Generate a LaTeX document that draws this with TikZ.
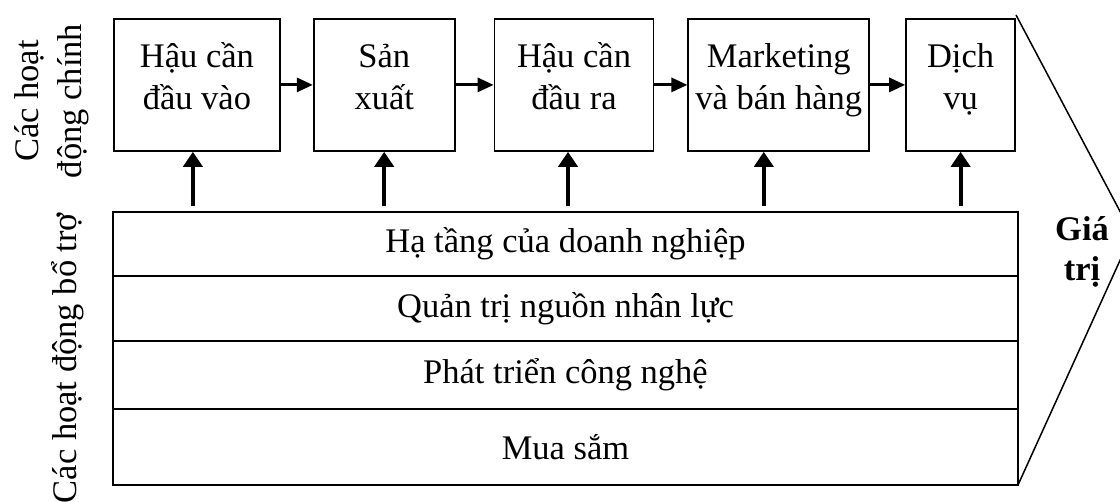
\documentclass[tikz,border=0pt]{standalone}
\usepackage{fontspec}
\setmainfont{Liberation Serif}
\usetikzlibrary{arrows.meta,positioning}

\newcommand\topst{\rule{0pt}{33pt}}
\newcommand\botst{\rule[-12pt]{0pt}{12pt}}

\begin{document}
\begin{tikzpicture}[x=1pt,y=-1pt,
  actbox/.style={draw,line width=1.8pt,minimum height=132pt,inner sep=0pt},
  acttext/.style={align=center,inner sep=0pt,font=\fontsize{34.5}{42}\selectfont},
  rowbox/.style={draw,line width=1.8pt,minimum width=905pt,outer sep=0pt,inner sep=0pt,font=\fontsize{34.5}{42}\selectfont},
  sidetext/.style={rotate=90,align=center,inner sep=0pt,font=\fontsize{34.5}{43}\selectfont},
  flowarr/.style={line width=3pt,-{Triangle[length=16pt,width=14pt]}},
  uparr/.style={line width=4pt,-{Triangle[length=15pt,width=19pt]},shorten <=6pt}]
\useasboundingbox (0,0) rectangle (1120,502);
\clip (0,0) rectangle (1120,502);

% primary activities
\node[actbox,minimum width=166pt,anchor=north west] (b1) at (113,18) {};
\node[actbox,minimum width=141pt,right=32pt of b1] (b2) {};
\node[actbox,minimum width=159pt,right=38pt of b2] (b3) {};
\node[actbox,minimum width=181pt,right=33pt of b3] (b4) {};
\node[actbox,minimum width=109pt,right=35pt of b4] (b5) {};
\node[acttext] (t1) at ([yshift=6.5pt]b1.center) {\topst Hậu cần\\đầu vào\botst};
\node[acttext] (t2) at ([yshift=6.5pt]b2.center) {\topst Sản\\xuất\botst};
\node[acttext] (t3) at ([yshift=6.5pt]b3.center) {\topst Hậu cần\\đầu ra\botst};
\node[acttext] (t4) at ([yshift=6.5pt]b4.center) {\topst Marketing\\và bán hàng\botst};
\node[acttext] (t5) at ([yshift=6.5pt]b5.center) {\topst Dịch\\vụ\botst};
\draw[flowarr] (b1) -- (b2);
\draw[flowarr] (b2) -- (b3);
\draw[flowarr] (b3) -- (b4);
\draw[flowarr] (b4) -- (b5);

% support activities
\node[rowbox,minimum height=64pt,anchor=north west] (r1) at (113,212) {Hạ tầng của doanh nghiệp};
\node[rowbox,minimum height=65pt,below=0pt of r1] (r2) {Quản trị nguồn nhân lực};
\node[rowbox,minimum height=68pt,below=0pt of r2] (r3) {Phát triển công nghệ};
\node[rowbox,minimum height=76pt,below=0pt of r3] (r4) {Mua sắm};
\draw[uparr] ([xshift=-4pt]b1.south |- r1.north) -- ([xshift=-4pt]b1.south);
\draw[uparr] (b2.south |- r1.north) -- (b2.south);
\draw[uparr] ([xshift=-6pt]b3.south |- r1.north) -- ([xshift=-6pt]b3.south);
\draw[uparr] ([xshift=-15pt]b4.south |- r1.north) -- ([xshift=-15pt]b4.south);
\draw[uparr] (b5.south |- r1.north) -- (b5.south);

% margin
\coordinate (tip) at (1132,234);
\draw[line width=1.5pt] ([yshift=3pt]b5.north east) -- (tip) -- (r4.south east);
\node[align=center,inner sep=0pt,font=\fontsize{34.5}{40}\bfseries] (val) at (1082,252) {Giá\\trị};

% side labels
\node[sidetext] (main) at (52,101) {Các hoạt\\động chính};
\node[sidetext] (supp) at (68,358) {Các hoạt động bổ trợ};
\end{tikzpicture}
\end{document}
